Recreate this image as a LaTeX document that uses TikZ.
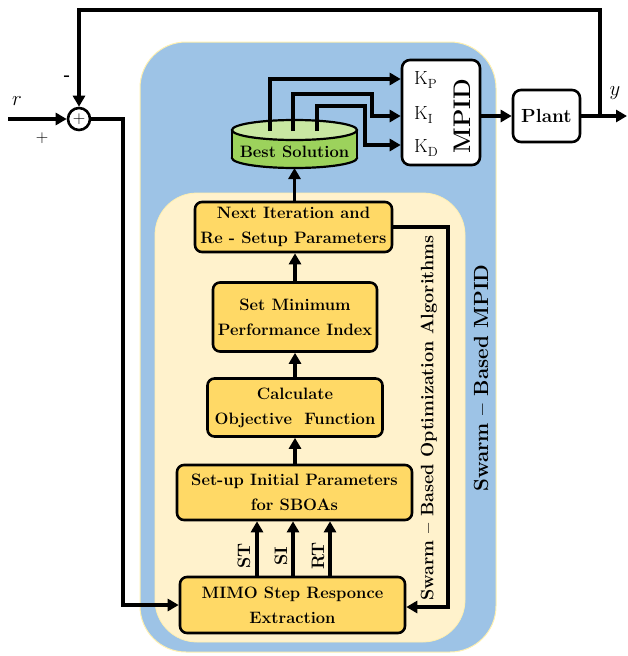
\documentclass[tikz,border=0pt]{standalone}
\usepackage{fontspec}
\usetikzlibrary{arrows.meta,calc}
\definecolor{bluebg}{HTML}{9DC3E6}
\definecolor{creambg}{HTML}{FFF2CC}
\definecolor{boxorange}{HTML}{FFD966}
\definecolor{cylbody}{HTML}{9CD25C}
\definecolor{cyltop}{HTML}{C9E7A2}
\definecolor{edgeyellow}{HTML}{FFF0B0}
\begin{document}
\begin{tikzpicture}[x=1pt,y=-1pt,
  font=\fontsize{16.5}{25}\selectfont\bfseries,
  stepbox/.style={draw=black,line width=2.6pt,fill=boxorange,rounded corners=7pt,align=center,inner sep=2pt},
  whitebox/.style={draw=black,line width=2.6pt,fill=white,rounded corners=8pt,align=center},
  conn/.style={line width=3.6pt,line cap=butt},
  arr/.style={conn,-{Triangle[length=11pt,width=12pt]}},
  klab/.style={font=\fontsize{19}{20}\selectfont,inner sep=0pt},
  vlab/.style={rotate=90,font=\fontsize{18}{20}\selectfont\bfseries,inner sep=0pt}
]
\useasboundingbox (0,0) rectangle (627,656);
% backgrounds
\draw[draw=edgeyellow,line width=1pt,fill=bluebg,rounded corners=46pt] (140,42) rectangle (496,652);
\draw[draw=edgeyellow,line width=0.8pt,fill=creambg,rounded corners=42pt] (155,193) rectangle (465,642);

% process boxes
\node[stepbox,minimum width=197pt,minimum height=50pt] (next) at (293.5,227) {Next Iteration and\\Re - Setup Parameters};
\node[stepbox,minimum width=164pt,minimum height=69pt] (setmin) at (295,317) {Set Minimum\\Performance Index};
\node[stepbox,minimum width=175pt,minimum height=58pt] (calc) at (295,407.5) {Calculate\\Objective\ \ Function};
\node[stepbox,minimum width=235pt,minimum height=55pt] (setup) at (294.5,492.5) {Set-up Initial Parameters\\for SBOAs};
\node[stepbox,minimum width=225pt,minimum height=56pt] (mimo) at (292.5,605) {MIMO Step Responce\\Extraction};

% cylinder
\draw[line width=2.2pt,fill=cylbody] (294.5,158) ellipse[x radius=62.5pt,y radius=10pt];
\fill[cylbody] (232,130) rectangle (357,158);
\draw[line width=2.2pt] (232,130) -- (232,158) (357,130) -- (357,158);
\draw[line width=2.2pt,fill=cyltop] (294.5,130) ellipse[x radius=62.5pt,y radius=10pt];
\node[inner sep=0pt] (best) at (294.5,152) {Best Solution};
\coordinate (bestbot) at (294.5,168);
\coordinate (c1) at (270,131);
\coordinate (c2) at (293,131);
\coordinate (c3) at (317,131);

% MPID and plant
\node[whitebox,minimum width=78pt,minimum height=105pt] (mpid) at (441,112.5) {};
\node[klab,anchor=west] (kp) at (414,80) {K$_{\mathrm{P}}$};
\node[klab,anchor=west] (ki) at (414,115) {K$_{\mathrm{I}}$};
\node[klab,anchor=west] (kd) at (414,148) {K$_{\mathrm{D}}$};
\node[rotate=90,font=\fontsize{24}{26}\selectfont\bfseries,inner sep=0pt] (mpidlab) at (462,116) {MPID};
\node[whitebox,minimum width=67pt,minimum height=52pt,font=\fontsize{19}{20}\selectfont\bfseries] (plant) at (546.5,116) {Plant};

% sum
\node[draw,circle,line width=2.6pt,minimum size=22pt,inner sep=0pt,fill=white] (sum) at (79,119) {};
\node[font=\fontsize{16}{16}\selectfont,inner sep=0pt] (plusin) at (79,119) {$+$};
\node (rlab) at (17,101) {\fontsize{22}{22}\selectfont$r$};
\node (plus) at (42,138) {\fontsize{17}{17}\selectfont$+$};
\node (minus) at (67,78) {\fontsize{17}{17}\selectfont -};
\node (ylab) at (615,93) {\fontsize{22}{22}\selectfont$y$};

\coordinate (in) at (8,119);
\coordinate (out) at (627,116);
\coordinate (br) at (600,116);
\coordinate (st0) at (257,577);
\coordinate (si0) at (293,577);
\coordinate (rt0) at (330,577);

% labels
\node[rotate=90,font=\fontsize{18}{20}\selectfont\bfseries] (opt) at (429,418) {Swarm -- Based Optimization Algorithms};
\node[rotate=90,font=\fontsize{20.5}{22}\selectfont\bfseries] (smpid) at (481,378) {Swarm -- Based MPID};
\node[vlab] (st) at (244,556) {ST};
\node[vlab] (si) at (281,556) {SI};
\node[vlab] (rt) at (318,556) {RT};

% connectors
\draw[arr] (setup.north -| calc.south) -- (calc.south);
\draw[arr] (calc.north) -- (setmin.south);
\draw[arr] (setmin.north) -- (setmin.north |- next.south);
\draw[arr] (next.north -| bestbot) -- (bestbot);
\draw[arr] (st0) -- (st0 |- setup.south);
\draw[arr] (si0) -- (si0 |- setup.south);
\draw[arr] (rt0) -- (rt0 |- setup.south);
\draw[arr] (next.east) -| (448,607) -- (mimo.east |- 0,607);
\draw[arr] (sum.east) -| (123,605) -- (mimo.west);
\draw[arr] (in) -- (sum.west);
\draw[arr] (br) |- (79,10) -- (sum.north);
\draw[arr] (plant.east) -- (out);
\draw[arr] (mpid.east |- plant.west) -- (plant.west);
\draw[arr] (c1) |- (mpid.west |- 0,79);
\draw[arr] (c2) |- (372,94) |- (mpid.west |- 0,116);
\draw[arr] (c3) |- (365,106) |- (mpid.west |- 0,145);
\end{tikzpicture}
\end{document}
